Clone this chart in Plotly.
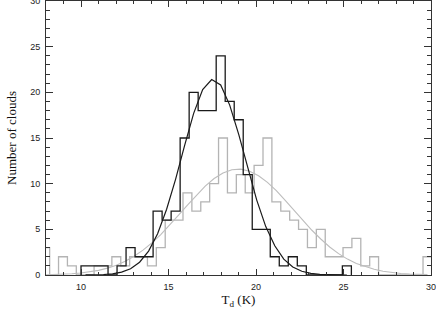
import plotly.graph_objects as go

# ---------------- data ----------------
# Black histogram: bins of constant width starting at black_start (K)
black_start = 10.0
black_width = 0.515
black_counts = [1, 1, 1, 0, 1, 3, 2, 2, 7, 6, 7, 15, 20, 18, 18, 24, 19, 17,
                11, 5, 5, 2, 1, 2, 1, 0, 0, 0, 0, 1]
# Gaussian fit to the black histogram, read at the bin centres
black_fit = [0.01, 0.02, 0.05, 0.13, 0.31, 0.69, 1.40, 2.62, 4.52, 7.20, 10.5,
             14.2, 17.7, 20.3, 21.4, 20.8, 18.6, 15.4, 11.7, 8.2, 5.3, 3.2,
             1.73, 0.87, 0.41, 0.17, 0.07, 0.03, 0.01, 0.0]

# Grey histogram
grey_start = 7.70
grey_width = 0.508
grey_counts = [3, 0, 2, 1, 0, 0, 1, 1, 2, 1, 2, 2, 1, 3, 6, 6, 9, 7, 8, 10, 15,
               9, 11, 9, 12, 15, 8, 7, 6, 5, 3, 5, 2, 2, 3, 4, 1, 2, 0, 0, 0,
               0, 0, 2]
grey_fit = [0.03, 0.05, 0.09, 0.14, 0.22, 0.34, 0.51, 0.75, 1.07, 1.51, 2.05,
            2.72, 3.51, 4.43, 5.46, 6.55, 7.66, 8.74, 9.73, 10.56, 11.17,
            11.52, 11.59, 11.37, 10.87, 10.14, 9.23, 8.18, 7.08, 5.97, 4.90,
            3.94, 3.07, 2.34, 1.74, 1.26, 0.90, 0.62, 0.41, 0.27, 0.17, 0.11,
            0.07, 0.04]

x_ticks = [10, 15, 20, 25, 30]
y_ticks = [0, 5, 10, 15, 20, 25, 30]


def step_xy(start, width, counts):
    edges = [start + i * width for i in range(len(counts) + 1)]
    xs = [edges[0]] + edges
    ys = [0] + list(counts) + [0]
    return xs, ys


def centres(start, width, n):
    return [start + (i + 0.5) * width for i in range(n)]


bx, by = step_xy(black_start, black_width, black_counts)
gx, gy = step_xy(grey_start, grey_width, grey_counts)
bcx = centres(black_start, black_width, len(black_fit))
gcx = centres(grey_start, grey_width, len(grey_fit))

GREY = "#b4b4b4"
BLACK = "#1a1a1a"

fig = go.Figure()
fig.add_trace(go.Scatter(x=gx, y=gy, mode="lines", line_shape="hv",
                         line=dict(color=GREY, width=1.3), hoverinfo="skip"))
fig.add_trace(go.Scatter(x=gcx, y=grey_fit, mode="lines",
                         line=dict(color="#bdbdbd", width=1.1), hoverinfo="skip"))
fig.add_trace(go.Scatter(x=bx, y=by, mode="lines", line_shape="hv",
                         line=dict(color=BLACK, width=1.3), hoverinfo="skip"))
fig.add_trace(go.Scatter(x=bcx, y=black_fit, mode="lines",
                         line=dict(color=BLACK, width=1.2), hoverinfo="skip"))

axis_common = dict(
    showgrid=False, zeroline=False, showline=True, linecolor="#333333",
    linewidth=1, mirror="ticks", ticks="inside", tickcolor="#333333",
    automargin=False, ticklabeloverflow="allow",
    tickfont=dict(family="Liberation Sans, Arial, sans-serif", size=9,
                  color="#222222"),
)

fig.update_layout(
    width=436, height=318,
    margin=dict(l=46, r=5, t=1, b=43),
    paper_bgcolor="white", plot_bgcolor="white",
    showlegend=False,
    xaxis=dict(range=[8, 30], tickvals=x_ticks, ticklen=6,
               ticklabelstandoff=3,
               minor=dict(dtick=1, ticklen=3, ticks="inside",
                          tickcolor="#333333"),
               title=dict(text="T<sub>d</sub> (K)", standoff=4,
                          font=dict(family="Liberation Serif, Times New Roman, serif",
                                    size=13, color="#111111")),
               **axis_common),
    yaxis=dict(range=[0, 30], tickvals=y_ticks, ticklen=7,
               ticklabelstandoff=3,
               minor=dict(dtick=1, ticklen=4, ticks="inside",
                          tickcolor="#333333"),
               title=dict(text="Number of clouds", standoff=10,
                          font=dict(family="Liberation Serif, Times New Roman, serif",
                                    size=13, color="#111111")),
               **axis_common),
)

fig.write_html(
    "out.html",
    config={"displayModeBar": False},
    post_script="document.body.style.margin='0';document.body.style.overflow='hidden';",
)
